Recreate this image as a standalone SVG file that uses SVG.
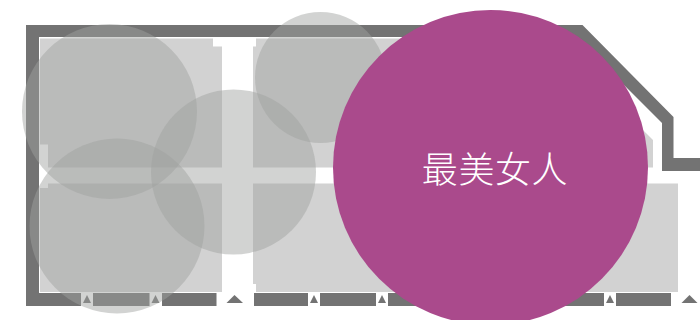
<svg xmlns="http://www.w3.org/2000/svg" width="700" height="320" viewBox="0 0 700 320">
<style>
.room{fill:#d2d2d2}
.wall{fill:#737373}
.bubble{fill:#9fa19f;fill-opacity:.47}
.label{font-family:"Noto Sans CJK SC","Noto Sans CJK JP",sans-serif;font-weight:300;font-size:36px;fill:#fff}
</style>
<rect width="700" height="320" fill="#fff"/>
<g id="rooms">
<polygon class="room" points="40,38.5 213,38.5 213,46.5 222,46.5 222,167.5 48,167.5 48,144.5 40,144.5"/>
<polygon class="room" points="48,183.5 222,183.5 222,292 40,292 40,188 48,188"/>
<polygon class="room" points="256,38.5 551,38.5 653,140 653,167.5 253,167.5 253,46.5 256,46.5"/>
<polygon class="room" points="253,183.5 678,183.5 678,292 256,292 256,284 253,284"/>
</g>
<g id="walls">
<polygon class="wall" points="26,25 582.500,25 673.500,117 673.500,158 700,158 700,171 662,171 662,123 576,37 39,37 39,293 81,293 81,306 26,306"/>
<rect class="wall" x="93" y="293" width="56.500" height="13"/>
<rect class="wall" x="162" y="293" width="54.500" height="13"/>
<rect class="wall" x="254" y="293" width="54" height="13"/>
<rect class="wall" x="320" y="293" width="56" height="13"/>
<rect class="wall" x="388" y="293" width="216" height="13"/>
<rect class="wall" x="616" y="293" width="55" height="13"/>
<polygon class="wall" points="87,295 91,303 83,303"/>
<polygon class="wall" points="155.500,295 159.500,303 151.500,303"/>
<polygon class="wall" points="314,295 318,303 310,303"/>
<polygon class="wall" points="382,295 386,303 378,303"/>
<polygon class="wall" points="610,295 614,303 606,303"/>
<polygon class="wall" points="234.500,295 243,303 226.500,303"/>
<polygon class="wall" points="689.500,295 697.500,303 681.500,303"/>
</g>
<g id="bubble-1"><circle class="bubble" cx="109.500" cy="111.500" r="87.500"/></g>
<g id="bubble-2"><circle class="bubble" cx="117" cy="226" r="87.500"/></g>
<g id="bubble-3"><circle class="bubble" cx="233.500" cy="172" r="82.500"/></g>
<g id="bubble-4"><circle class="bubble" cx="320.500" cy="77.500" r="65.500"/></g>
<g id="bubble-main">
<circle cx="490.500" cy="167.500" r="157.500" fill="#aa4a8c"/>
<text class="label" x="495" y="183" text-anchor="middle" letter-spacing=".6">最美女人</text>
</g>
</svg>
